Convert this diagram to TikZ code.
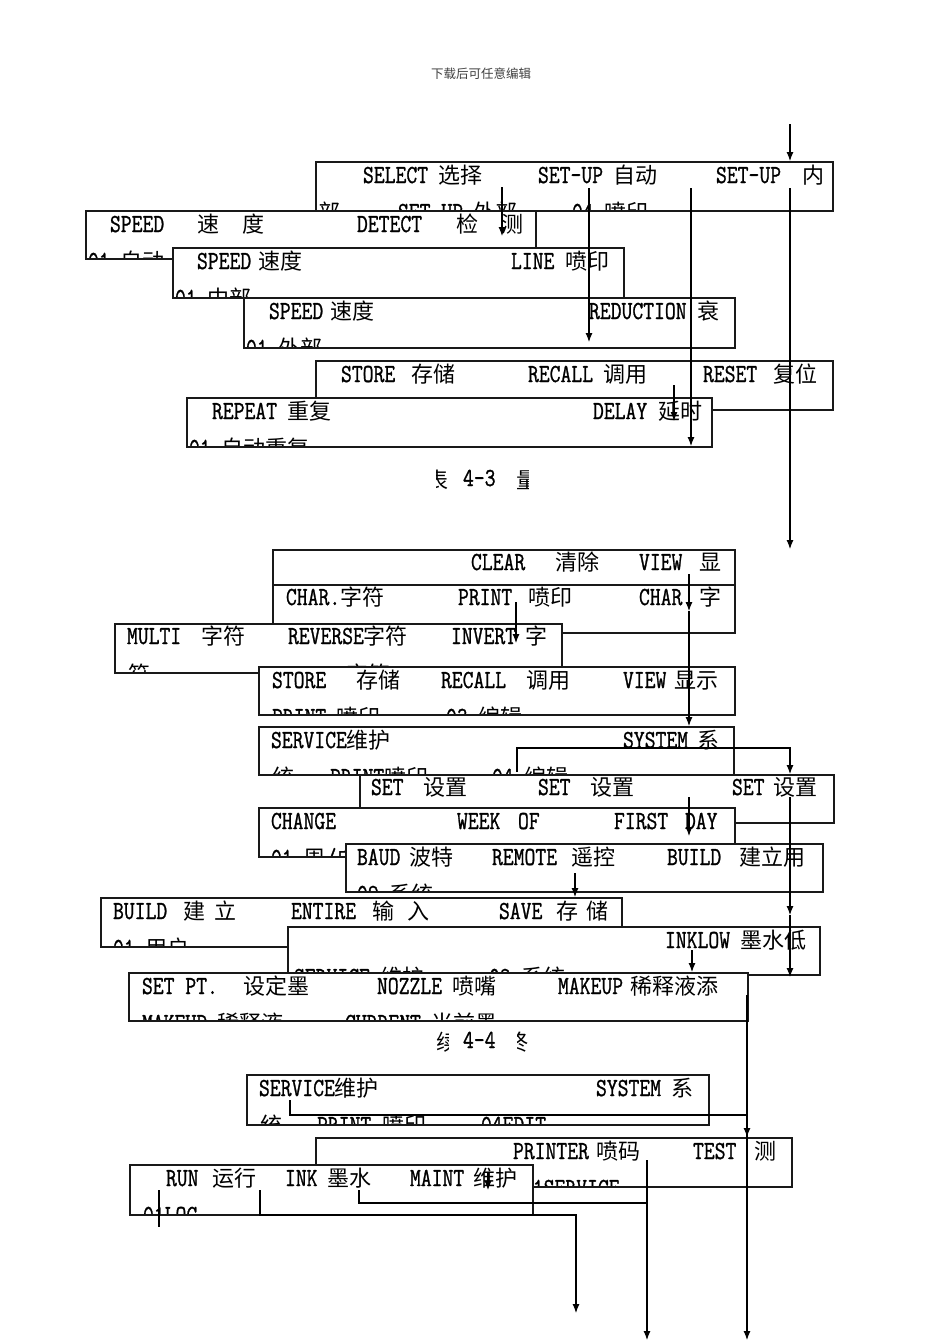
\documentclass[tikz,border=0pt]{standalone}
\usepackage{fontspec}
\usepackage{graphicx}
\usetikzlibrary{arrows.meta}
\newfontfamily\cjfont{Noto Sans CJK SC}
\newfontfamily\latfont{Latin Modern Mono}[FakeBold=1.2]
\newcommand\mylat[1]{{\fontsize{26}{26}\selectfont\scalebox{0.81}[1]{\latfont #1}}}
\newcommand\mycj[1]{{\cjfont\fontsize{22}{26}\selectfont #1}}
\newcommand\chunk[4]{\node[tx] (#1) at (#2,#3) {#4};}
\newcommand\tbox[6]{%
  \node[bxfill, minimum width={#4-#2}, minimum height={#5-#3}] (#1) at (#2,#3) {};
  \begin{scope}\clip (#1.north west) rectangle (#1.south east); #6 \end{scope}
  \draw[bxline] (#1.north west) rectangle (#1.south east);}
\tikzset{
  tx/.style={anchor=base west, inner sep=0pt, outer sep=0pt},
  bxfill/.style={fill=white, draw=none, anchor=north west, inner sep=0pt, outer sep=0pt},
  bxline/.style={line width=1.2pt, draw=black!90},
  ln/.style={line width=1.1pt},
  arr/.style={line width=1.1pt, -{Latex[length=9pt,width=7pt]}}
}
\begin{document}
\begin{tikzpicture}[x=1pt,y=-1pt]
\useasboundingbox (0,0) rectangle (950,1344);
\fill[white] (0,0) rectangle (950,1344);
% header
\node[inner sep=0pt, text=black!75] (hdr) at (481,74) {\cjfont\fontsize{12.5}{14}\selectfont 下载后可任意编辑};
% ---------------- figure 4-3 ----------------
\tbox{A}{316}{162}{833}{211}{%
  \chunk{A1}{363}{183}{\mylat{SELECT }\mycj{选择}}
  \chunk{A2}{538}{183}{\mylat{SET-UP }\mycj{自动}}
  \chunk{A3}{716}{183}{\mylat{SET-UP}}
  \chunk{A4}{802}{183}{\mycj{内}}
  \chunk{A5}{318}{220}{\mycj{部}}
  \chunk{A6}{398}{220}{\mylat{SET-UP }\mycj{外部}}
  \chunk{A7}{572}{220}{\mylat{04 }\mycj{喷印}}}
\tbox{B}{86}{211}{536}{259}{%
  \chunk{B1}{110}{232}{\mylat{SPEED}}
  \chunk{B2}{197}{232}{\mycj{速}}
  \chunk{B3}{242}{232}{\mycj{度}}
  \chunk{B4}{357}{232}{\mylat{DETECT}}
  \chunk{B5}{456}{232}{\mycj{检}}
  \chunk{B6}{501}{232}{\mycj{测}}
  \chunk{B7}{88}{269}{\mylat{01 }\mycj{自动}}}
\tbox{C}{173}{248}{624}{298}{%
  \chunk{C1}{197}{269}{\mylat{SPEED}\hspace{7pt}\mycj{速度}}
  \chunk{C2}{511}{269}{\mylat{LINE }\mycj{喷印}}
  \chunk{C3}{175}{306}{\mylat{01 }\mycj{中部}}}
\tbox{D}{244}{298}{735}{348}{%
  \chunk{D1}{269}{319}{\mylat{SPEED}\hspace{7pt}\mycj{速度}}
  \chunk{D2}{589}{319}{\mylat{REDUCTION }\mycj{衰}}
  \chunk{D3}{246}{356}{\mylat{01 }\mycj{外部}}}
\tbox{E}{316}{361}{833}{410}{%
  \chunk{E1}{341}{382}{\mylat{STORE}}
  \chunk{E2}{411}{382}{\mycj{存储}}
  \chunk{E3}{528}{382}{\mylat{RECALL }\mycj{调用}}
  \chunk{E4}{703}{382}{\mylat{RESET}}
  \chunk{E5}{773}{382}{\mycj{复位}}}
\tbox{F}{187}{398}{712}{447}{%
  \chunk{F1}{212}{419}{\mylat{REPEAT }\mycj{重复}}
  \chunk{F2}{593}{419}{\mylat{DELAY }\mycj{延时}}
  \chunk{F3}{189}{456}{\mylat{01 }\mycj{自动重复}}}
% caption 4-3
\node[tx] (cap43) at (463,486) {\mylat{4-3}};
\begin{scope}\clip (436,464) rectangle (448,494); \node[tx] (p43l) at (426,488) {\mycj{表}}; \end{scope}
\begin{scope}\clip (517,464) rectangle (528,494); \node[tx] (p43r) at (516,488) {\mycj{量}}; \end{scope}
% ---------------- figure 4-4 ----------------
\tbox{Ga}{273}{550}{735}{585}{%
  \chunk{Ga1}{471}{570}{\mylat{CLEAR}}
  \chunk{Ga2}{555}{570}{\mycj{清除}}
  \chunk{Ga3}{639}{570}{\mylat{VIEW}}
  \chunk{Ga4}{699}{570}{\mycj{显}}}
\tbox{Gb}{273}{585}{735}{633}{%
  \chunk{Gb1}{286}{605}{\mylat{CHAR.}\mycj{字符}}
  \chunk{Gb2}{458}{605}{\mylat{PRINT}}
  \chunk{Gb3}{528}{605}{\mycj{喷印}}
  \chunk{Gb4}{639}{605}{\mylat{CHAR.}}
  \chunk{Gb5}{699}{605}{\mycj{字}}}
\tbox{H}{115}{624}{562}{673}{%
  \chunk{H1}{127}{644}{\mylat{MULTI}}
  \chunk{H2}{201}{644}{\mycj{字符}}
  \chunk{H3}{288}{644}{\mylat{REVERSE}\mycj{字符}}
  \chunk{H4}{451}{644}{\mylat{INVERT}}
  \chunk{H5}{525}{644}{\mycj{字}}
  \chunk{H6}{128}{682}{\mycj{符}}
  \chunk{H7}{346}{682}{\mycj{字符}}}
\tbox{I}{259}{667}{735}{715}{%
  \chunk{I1}{272}{688}{\mylat{STORE}}
  \chunk{I2}{356}{688}{\mycj{存储}}
  \chunk{I3}{441}{688}{\mylat{RECALL}}
  \chunk{I4}{526}{688}{\mycj{调用}}
  \chunk{I5}{623}{688}{\mylat{VIEW}}
  \chunk{I6}{674}{688}{\mycj{显示}}
  \chunk{I7}{272}{725}{\mylat{PRINT}}
  \chunk{I8}{336}{725}{\mycj{喷印}}
  \chunk{I9}{446}{725}{\mylat{03 }\mycj{编辑}}}
\tbox{J}{259}{727}{734}{775}{%
  \chunk{J1}{271}{748}{\mylat{SERVICE}\mycj{维护}}
  \chunk{J2}{623}{748}{\mylat{SYSTEM}}
  \chunk{J3}{697}{748}{\mycj{系}}
  \chunk{J4}{272}{785}{\mycj{统}}
  \chunk{J5}{330}{785}{\mylat{PRINT}\mycj{喷印}}
  \chunk{J6}{492}{785}{\mylat{04 }\mycj{编辑}}}
\tbox{K}{360}{775}{834}{823}{%
  \chunk{K1}{371}{795}{\mylat{SET}}
  \chunk{K2}{423}{795}{\mycj{设置}}
  \chunk{K3}{538}{795}{\mylat{SET}}
  \chunk{K4}{590}{795}{\mycj{设置}}
  \chunk{K5}{732}{795}{\mylat{SET}}
  \chunk{K6}{773}{795}{\mycj{设置}}}
\tbox{L}{259}{808}{735}{857}{%
  \chunk{L1}{271}{829}{\mylat{CHANGE}}
  \chunk{L2}{457}{829}{\mylat{WEEK}}
  \chunk{L3}{518}{829}{\mylat{OF}}
  \chunk{L4}{614}{829}{\mylat{FIRST}}
  \chunk{L5}{685}{829}{\mylat{DAY}}
  \chunk{L6}{271}{866}{\mylat{01 }\mycj{周}\mylat{/}\mycj{白}}}
\tbox{M}{346}{844}{823}{892}{%
  \chunk{M1}{357}{865}{\mylat{BAUD}}
  \chunk{M2}{409}{865}{\mycj{波特}}
  \chunk{M3}{492}{865}{\mylat{REMOTE}}
  \chunk{M4}{571}{865}{\mycj{遥控}}
  \chunk{M5}{667}{865}{\mylat{BUILD}}
  \chunk{M6}{739}{865}{\mycj{建立用}}
  \chunk{M7}{357}{902}{\mylat{02 }\mycj{系统}}}
\tbox{N}{101}{898}{622}{947}{%
  \chunk{N1}{113}{919}{\mylat{BUILD}}
  \chunk{N2}{183}{919}{\mycj{建}}
  \chunk{N3}{214}{919}{\mycj{立}}
  \chunk{N4}{291}{919}{\mylat{ENTIRE}}
  \chunk{N5}{372}{919}{\mycj{输}}
  \chunk{N6}{407}{919}{\mycj{入}}
  \chunk{N7}{499}{919}{\mylat{SAVE}}
  \chunk{N8}{556}{919}{\mycj{存}}
  \chunk{N9}{586}{919}{\mycj{储}}
  \chunk{N10}{113}{956}{\mylat{01 }\mycj{用户}}}
\tbox{O}{288}{927}{820}{975}{%
  \chunk{O1}{665}{948}{\mylat{INKLOW }\mycj{墨水低}}
  \chunk{O2}{294}{985}{\mylat{SERVICE }\mycj{维护}}
  \chunk{O3}{489}{985}{\mylat{02 }\mycj{系统}}}
\tbox{P}{129}{973}{748}{1021}{%
  \chunk{P1}{142}{994}{\mylat{SET PT.}}
  \chunk{P2}{243}{994}{\mycj{设定墨}}
  \chunk{P3}{377}{994}{\mylat{NOZZLE}}
  \chunk{P4}{452}{994}{\mycj{喷嘴}}
  \chunk{P5}{558}{994}{\mylat{MAKEUP}}
  \chunk{P6}{630}{994}{\mycj{稀释液添}}
  \chunk{P7}{142}{1031}{\mylat{MAKEUP }\mycj{稀释液}}
  \chunk{P8}{345}{1031}{\mylat{CURRENT }\mycj{当前墨}}}
% caption 4-4
\node[tx] (cap44) at (463,1048) {\mylat{4-4}};
\begin{scope}\clip (436,1026) rectangle (448,1056); \node[tx] (p44l) at (436,1050) {\mycj{续}}; \end{scope}
\begin{scope}\clip (517,1026) rectangle (528,1056); \node[tx] (p44r) at (506,1050) {\mycj{终}}; \end{scope}
% ---------------- bottom group ----------------
\tbox{Q}{247}{1075}{709}{1125}{%
  \chunk{Q1}{259}{1096}{\mylat{SERVICE}\mycj{维护}}
  \chunk{Q2}{596}{1096}{\mylat{SYSTEM}}
  \chunk{Q3}{671}{1096}{\mycj{系}}
  \chunk{Q4}{260}{1133}{\mycj{统}}
  \chunk{Q5}{317}{1133}{\mylat{PRINT }\mycj{喷印}}
  \chunk{Q6}{481}{1133}{\mylat{04EDIT}}}
\tbox{R}{316}{1138}{792}{1187}{%
  \chunk{R1}{513}{1159}{\mylat{PRINTER}\hspace{8pt}\mycj{喷码}}
  \chunk{R2}{693}{1159}{\mylat{TEST}}
  \chunk{R3}{754}{1159}{\mycj{测}}
  \chunk{R4}{522}{1196}{\mylat{01SERVICE}}}
\tbox{S}{130}{1165}{533}{1215}{%
  \chunk{S1}{166}{1186}{\mylat{RUN}}
  \chunk{S2}{212}{1186}{\mycj{运行}}
  \chunk{S3}{285}{1186}{\mylat{INK}}
  \chunk{S4}{327}{1186}{\mycj{墨水}}
  \chunk{S5}{410}{1186}{\mylat{MAINT}}
  \chunk{S6}{473}{1186}{\mycj{维护}}
  \chunk{S7}{143}{1223}{\mylat{01LOC}}}
% ---------------- connectors ----------------
\coordinate (c1a) at (790,124);  \coordinate (c1b) at (790,161);
\coordinate (c2a) at (790,188);  \coordinate (c2b) at (790,549);
\coordinate (c3a) at (502,187);  \coordinate (c3b) at (502,236);
\coordinate (c4a) at (589,188);  \coordinate (c4b) at (589,342);
\coordinate (c5a) at (691,188);  \coordinate (c5b) at (691,446);
\coordinate (c6a) at (674,385);  \coordinate (c6b) at (674,421);
\coordinate (c7a) at (689,574);  \coordinate (c7b) at (689,611); \coordinate (c7c) at (689,726);
\coordinate (c8a) at (516,602);  \coordinate (c8b) at (516,643);
\coordinate (c9a) at (517,772);  \coordinate (c9b) at (517,748); \coordinate (c9c) at (790,748); \coordinate (c9d) at (790,774);
\coordinate (c10a) at (689,797); \coordinate (c10b) at (689,836);
\coordinate (c11a) at (790,797); \coordinate (c11b) at (790,915); \coordinate (c11c) at (790,977);
\coordinate (c12a) at (575,873); \coordinate (c12b) at (575,897);
\coordinate (c13a) at (692,950); \coordinate (c13b) at (692,972);
\coordinate (c14a) at (747,995); \coordinate (c14b) at (747,1340);
\coordinate (c15a) at (290,1100); \coordinate (c15b) at (290,1115); \coordinate (c15c) at (747,1115); \coordinate (c15d) at (747,1137);
\coordinate (c16a) at (488,1172); \coordinate (c16b) at (488,1190);
\coordinate (c17a) at (647,1160); \coordinate (c17b) at (647,1340);
\coordinate (c18a) at (359,1190); \coordinate (c18b) at (359,1203); \coordinate (c18c) at (647,1203);
\coordinate (c19a) at (260,1190); \coordinate (c19b) at (260,1215); \coordinate (c19c) at (576,1215); \coordinate (c19d) at (576,1313);
\coordinate (c20a) at (159,1190); \coordinate (c20b) at (159,1227);
\draw[arr] (c1a) -- (c1b);
\draw[arr] (c2a) -- (c2b);
\draw[arr] (c3a) -- (c3b);
\draw[arr] (c4a) -- (c4b);
\draw[arr] (c5a) -- (c5b);
\draw[arr] (c6a) -- (c6b);
\draw[arr] (c7a) -- (c7b);
\draw[arr] (c7b) -- (c7c);
\draw[arr] (c8a) -- (c8b);
\draw[arr] (c9a) -- (c9b) -- (c9c) -- (c9d);
\draw[arr] (c10a) -- (c10b);
\draw[arr] (c11a) -- (c11b);
\draw[arr] (c11b) -- (c11c);
\draw[arr] (c12a) -- (c12b);
\draw[arr] (c13a) -- (c13b);
\draw[arr] (c14a) -- (c14b);
\draw[arr] (c15a) -- (c15b) -- (c15c) -- (c15d);
\draw[arr] (c16a) -- (c16b);
\draw[arr] (c17a) -- (c17b);
\draw[ln] (c18a) -- (c18b) -- (c18c);
\draw[arr] (c19a) -- (c19b) -- (c19c) -- (c19d);
\draw[ln] (c20a) -- (c20b);
\end{tikzpicture}
\end{document}
